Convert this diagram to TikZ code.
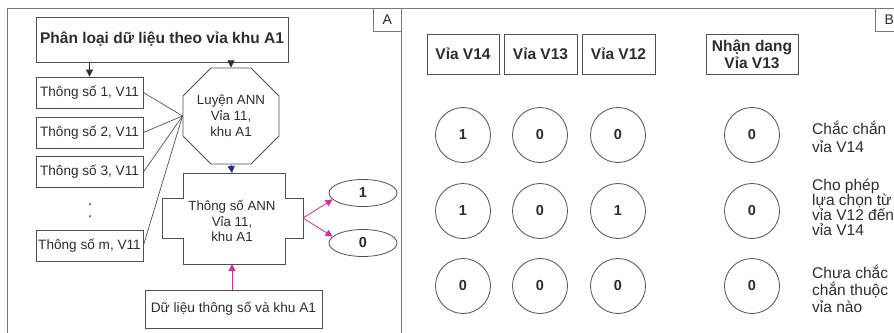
\documentclass[tikz,border=0pt]{standalone}
\usepackage{fontspec}
\setmainfont{Liberation Sans}
\usetikzlibrary{arrows.meta,shapes.geometric}

\definecolor{ink}{RGB}{45,45,45}
\definecolor{edge}{RGB}{80,80,80}
\definecolor{framec}{RGB}{120,120,120}
\definecolor{mag}{RGB}{205,50,150}
\definecolor{navy}{RGB}{35,45,140}

\tikzset{
  box/.style={draw=edge, line width=0.8pt, fill=white, text=ink, inner sep=0pt, align=center},
  titlebox/.style={box, font=\bfseries\fontsize{15.5}{17}\selectfont},
  param/.style={box, minimum width=107pt, minimum height=31pt, font=\fontsize{13.6}{16}\selectfont},
  plain/.style={text=ink, inner sep=0pt, align=center, font=\fontsize{13.3}{15.8}\selectfont},
  head/.style={box, minimum height=40pt, font=\bfseries\fontsize{15.5}{17}\selectfont},
  bit/.style={circle, draw=edge, line width=0.8pt, minimum size=55pt, inner sep=0pt, text=ink,
    font=\bfseries\fontsize{14.5}{16}\selectfont},
  outbit/.style={ellipse, draw=edge, line width=0.8pt, minimum width=68pt, minimum height=27pt,
    inner sep=0pt, text=ink, font=\bfseries\fontsize{14.5}{16}\selectfont},
  note/.style={anchor=west, align=left, text=ink, inner sep=0pt},
  tag/.style={draw=framec, line width=0.7pt, fill=white, text=ink, inner sep=0pt,
    minimum width=28pt, minimum height=23pt, anchor=north west, font=\fontsize{14}{16}\selectfont},
  tip/.style={-{Triangle[length=7pt,width=7pt]}, line width=0.8pt},
}

\begin{document}
\begin{tikzpicture}[x=1pt,y=-1pt]
\useasboundingbox (0,0) rectangle (894,332);
\clip (0,0) rectangle (894,332);

% panel frames
\draw[framec, line width=0.8pt] (7,340) -- (7,8) -- (910,8);
\draw[framec, line width=0.8pt] (401,8) -- (401,340);
\node[tag] (tagA) at (373,8) {A};
\node[tag] (tagB) at (875,8) {B};

% ---------- panel A: training flow ----------
\node[titlebox, minimum width=252pt, minimum height=45pt] (title) at (162,39.5)
  {Phân loại dữ liệu theo vỉa khu A1};

\node[param] (p1) at (89.5,92.5)  {Thông số 1, V11};
\node[param] (p2) at (89.5,132.5) {Thông số 2, V11};
\node[param] (p3) at (89.5,172)   {Thông số 3, V11};
\node[param] (pm) at (89.5,245.5) {Thông số m, V11};
\fill[ink] (90,204) circle (1pt);
\fill[ink] (90,216) circle (1pt);

\node[regular polygon, regular polygon sides=8, minimum size=94pt, draw=edge, line width=0.8pt,
  plain] (train) at (231,116) {Luyện ANN\\Vỉa 11,\\khu A1};

\draw[tip, ink] (title.south -| p1.north) -- (p1.north);
\draw[tip, ink] (title.south -| train.north) -- (train.north);
\foreach \p in {p1,p2,p3,pm}
  \draw[edge, line width=0.7pt] (\p.east) -- (train.west);

% network parameters block
\draw[edge, line width=0.8pt, fill=white]
  (183,173) -- (285,173) -- (285,198) -- (303,198) -- (303,238) -- (285,238)
  -- (285,264) -- (183,264) -- (183,238) -- (162,238) -- (162,198) -- (183,198) -- cycle;
\node[plain] (net) at (232,221) {Thông số ANN\\Vỉa 11,\\khu A1};
\coordinate (netN) at (232,173);
\coordinate (netS) at (232,264);
\coordinate (netE) at (303,218);

\draw[tip, navy] (train.south) -- (netN);

\node[outbit] (one)  at (363,193) {1};
\node[outbit] (zero) at (363,243) {0};
\draw[tip, mag] (netE) -- (one.192);
\draw[tip, mag] (netE) -- (zero.168);

\node[box, minimum width=177pt, minimum height=38pt, font=\fontsize{13.7}{16}\selectfont]
  (data) at (233.5,309) {Dữ liệu thông số và khu A1};
\draw[tip, mag] (data.north -| netS) -- (netS);

% ---------- panel B: seam identification ----------
\node[head, minimum width=72pt] (h14) at (463,54)   {Vỉa V14};
\node[head, minimum width=73pt] (h13) at (540.5,54) {Vỉa V13};
\node[head, minimum width=73pt] (h12) at (618.5,54) {Vỉa V12};
\node[head, minimum width=92pt] (hid) at (752,54)   {Nhận dang\\Vỉa V13};

\node[bit] (a1) at (463,135) {1};
\node[bit] (b1) at (540,135) {0};
\node[bit] (c1) at (618,135) {0};
\node[bit] (d1) at (752,135) {0};
\node[bit] (a2) at (463,211) {1};
\node[bit] (b2) at (540,211) {0};
\node[bit] (c2) at (618,211) {1};
\node[bit] (d2) at (752,211) {0};
\node[bit] (a3) at (463,286) {0};
\node[bit] (b3) at (540,286) {0};
\node[bit] (c3) at (618,286) {0};
\node[bit] (d3) at (752,286) {0};

\node[note, font=\fontsize{15.5}{17.3}\selectfont] (r1) at (812,137) {Chắc chắn\\vỉa V14};
\node[note, font=\fontsize{15.5}{15}\selectfont]   (r2) at (812,207) {Cho phép\\lựa chọn từ\\vỉa V12 đến\\vỉa V14};
\node[note, font=\fontsize{15.5}{16.8}\selectfont] (r3) at (812,289) {Chưa chắc\\chắn thuộc\\vỉa nào};
\end{tikzpicture}
\end{document}
